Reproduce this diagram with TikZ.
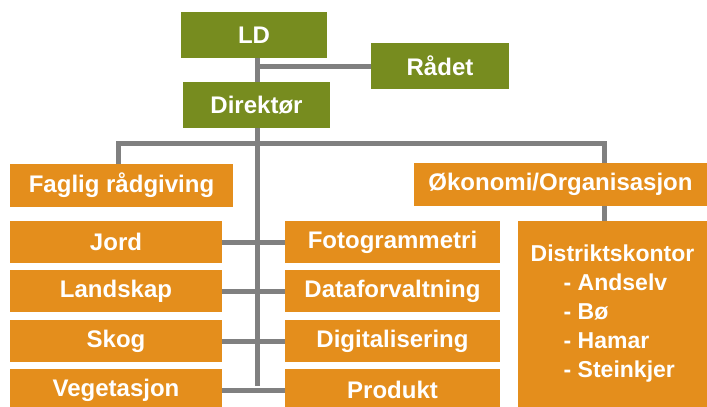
\documentclass[tikz,border=0pt]{standalone}
\usepackage{fontspec}
\setmainfont{Liberation Sans}
\usetikzlibrary{backgrounds}
\definecolor{olivebox}{RGB}{119,140,31}
\definecolor{orangebox}{RGB}{228,142,28}
\definecolor{linegray}{RGB}{128,128,128}
\tikzset{
  box/.style={inner sep=0pt, text=white, font=\fontsize{24}{29}\selectfont\bfseries, anchor=center},
  gbox/.style={box, fill=olivebox},
  obox/.style={box, fill=orangebox},
  conn/.style={draw=linegray, line width=5pt}
}
\begin{document}
\begin{tikzpicture}[x=1pt,y=-1pt]
\useasboundingbox (0,0) rectangle (707,407);
\node[gbox, minimum width=146pt, minimum height=46pt] (LD) at (254,35) {LD};
\node[gbox, minimum width=138pt, minimum height=46pt] (Radet) at (440,66) {Rådet};
\node[gbox, minimum width=147pt, minimum height=46pt] (Dir) at (256.5,105) {Direktør};
\node[obox, minimum width=223pt, minimum height=43pt] (Faglig) at (121.5,185.5) {Faglig rådgiving};
\node[obox, minimum width=293pt, minimum height=43pt] (Okon) at (560.5,184.5) {Økonomi/Organisasjon};
\node[obox, minimum width=212pt, minimum height=42pt] (Jord) at (116,242) {Jord};
\node[obox, minimum width=212pt, minimum height=42pt] (Land) at (116,291) {Landskap};
\node[obox, minimum width=212pt, minimum height=42pt] (Skog) at (116,341) {Skog};
\node[obox, minimum width=212pt, minimum height=42pt] (Veg) at (116,390) {Vegetasjon};
\node[obox, minimum width=215pt, minimum height=42pt] (Foto) at (392.5,242) {Fotogrammetri};
\node[obox, minimum width=215pt, minimum height=42pt] (Data) at (392.5,291) {Dataforvaltning};
\node[obox, minimum width=215pt, minimum height=42pt] (Digi) at (392.5,341) {Digitalisering};
\node[obox, minimum width=215pt, minimum height=42pt] (Prod) at (392.5,390) {Produkt};
\node[obox, minimum width=189pt, minimum height=186pt, align=left, font=\fontsize{23}{29}\selectfont\bfseries] (Dist) at (612.5,314)
  {Distriktskontor\\\hspace*{33pt}- Andselv\\\hspace*{33pt}- Bø\\\hspace*{33pt}- Hamar\\\hspace*{33pt}- Steinkjer};
\coordinate (t) at (257,386);
\coordinate (lx) at (118,143);
\coordinate (rx) at (604,143);
\begin{pgfonlayer}{background}
\draw[conn] (t |- LD.south) -- (t);
\draw[conn] (Radet.west) -- (Radet.west -| t);
\draw[conn] (Faglig.north -| lx) -- (lx) -- (rx) -- (Okon.north -| rx);
\draw[conn] (Okon.south -| rx) -- (Dist.north -| rx);
\draw[conn] (Jord.east) -- (Foto.west);
\draw[conn] (Land.east) -- (Data.west);
\draw[conn] (Skog.east) -- (Digi.west);
\draw[conn] (Veg.east) -- (Prod.west);
\end{pgfonlayer}
\end{tikzpicture}
\end{document}
